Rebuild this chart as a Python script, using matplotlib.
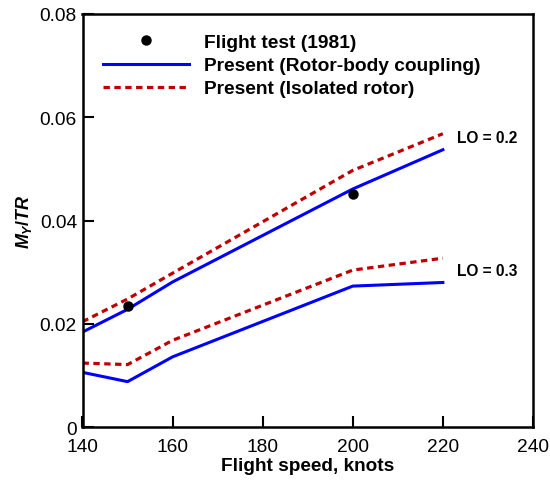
import matplotlib
matplotlib.use('Agg')
import matplotlib.pyplot as plt

plt.rcParams['font.family'] = ['Liberation Sans', 'DejaVu Sans']
plt.rcParams['mathtext.fontset'] = 'custom'
plt.rcParams['mathtext.it'] = 'Liberation Sans:italic:bold'
plt.rcParams['mathtext.rm'] = 'Liberation Sans:bold'

speed = [140, 150, 160, 200, 220]
coupled_02 = [0.0184, 0.0228, 0.0281, 0.0461, 0.0537]
isolated_02 = [0.0204, 0.0248, 0.0298, 0.0497, 0.0568]
coupled_03 = [0.0106, 0.0088, 0.0136, 0.0273, 0.0280]
isolated_03 = [0.0124, 0.0121, 0.0168, 0.0304, 0.0327]

test_speed = [150, 200]
test_my = [0.0234, 0.0452]

fig = plt.figure(figsize=(5.5, 4.81), dpi=100)
ax = fig.add_axes([0.150, 0.110, 0.819, 0.859])

blue = '#0000ff'
red = '#c00000'
dots = (0, (2.0, 1.4))
ax.plot(test_speed, test_my, 'o', color='black', ms=6.5, label='Flight test (1981)', zorder=5)
ax.plot(speed, coupled_02, color=blue, lw=2.2, label='Present (Rotor-body coupling)')
ax.plot(speed, isolated_02, color=red, lw=2.3, ls=dots, label='Present (Isolated rotor)')
ax.plot(speed, coupled_03, color=blue, lw=2.2)
ax.plot(speed, isolated_03, color=red, lw=2.3, ls=dots)

ax.text(223.2, 0.0560, 'LO = 0.2', fontsize=11.2, fontweight='bold', va='center')
ax.text(223.2, 0.0304, 'LO = 0.3', fontsize=11.2, fontweight='bold', va='center')

ax.set_xlim(140, 240)
ax.set_ylim(0, 0.08)
ax.set_xticks([140, 160, 180, 200, 220, 240])
ax.set_yticks([0, 0.02, 0.04, 0.06, 0.08])
ax.set_yticklabels(['0', '0.02', '0.04', '0.06', '0.08'])
ax.tick_params(direction='in', length=8, width=1.5, labelsize=13.8)
ax.tick_params(axis='x', pad=8)
ax.tick_params(axis='y', pad=4)
for s in ax.spines.values():
    s.set_linewidth(1.8)

ax.set_xlabel('Flight speed, knots', fontsize=13.7, fontweight='bold', labelpad=1)
ax.set_ylabel(r'$M_Y/TR$', fontsize=13, labelpad=4)

ax.legend(loc='upper left', bbox_to_anchor=(0.045, 0.952), frameon=False,
          prop={'weight': 'bold', 'size': 13.8}, handlelength=4.5,
          handletextpad=0.78, labelspacing=0.3, borderaxespad=0, borderpad=0)

fig.savefig('out.png', dpi=100)
